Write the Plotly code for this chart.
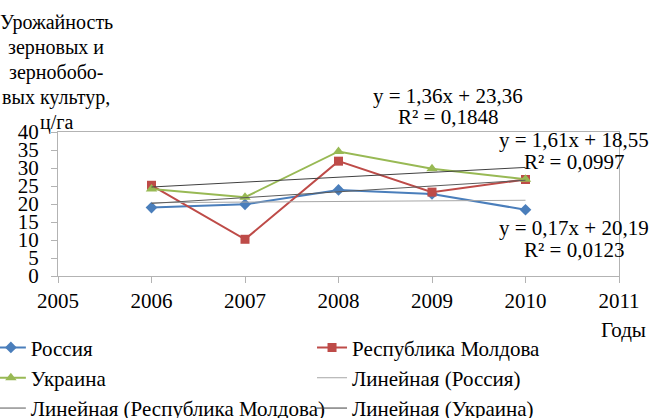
import plotly.graph_objects as go

years = [2006, 2007, 2008, 2009, 2010]
russia = [19.0, 19.9, 23.9, 22.8, 18.4]
moldova = [25.2, 10.2, 31.9, 23.3, 26.8]
ukraine = [24.2, 21.9, 34.6, 29.8, 26.9]

# trendline coefficients as printed on the chart (x = 1..5)
trend_slope = {"russia": 0.17, "moldova": 1.61, "ukraine": 1.36}
trend_icept = {"russia": 20.19, "moldova": 18.55, "ukraine": 23.36}
eq_texts = {
    "ukraine": ["y = 1,36x + 23,36", "R² = 0,1848"],
    "moldova": ["y = 1,61x + 18,55", "R² = 0,0997"],
    "russia": ["y = 0,17x + 20,19", "R² = 0,0123"],
}
x_ticks = [2005, 2006, 2007, 2008, 2009, 2010, 2011]
y_ticks = [0, 5, 10, 15, 20, 25, 30, 35, 40]
title_lines = ["Урожайность", "зерновых и", "зернобобо-", "вых культур,", "ц/га"]

FONT = "'Liberation Serif', 'Times New Roman', Times, serif"
W, H = 651, 418
L, R, T, B = 57.7, 619.3, 131.7, 275.7
PW, PH = R - L, B - T


def px(x):
    return (x - L) / PW


def py(y):
    return (B - y) / PH


idx = list(range(1, len(years) + 1))
fig = go.Figure()
# column 1 of the legend: Россия, Украина, Линейная (Республика Молдова)
# column 2 of the legend: Республика Молдова, Линейная (Россия), Линейная (Украина)
fig.add_trace(go.Scatter(x=years, y=russia, name="Россия", mode="lines+markers",
                         line=dict(color="#4a7ebb", width=2), legend="legend",
                         marker=dict(symbol="diamond", size=9, color="#4a7ebb")))
fig.add_trace(go.Scatter(x=years, y=moldova, name="Республика Молдова", mode="lines+markers",
                         line=dict(color="#be4b48", width=2), legend="legend2",
                         marker=dict(symbol="square", size=9, color="#be4b48")))
fig.add_trace(go.Scatter(x=years, y=ukraine, name="Украина", mode="lines+markers",
                         line=dict(color="#98b954", width=2), legend="legend",
                         marker=dict(symbol="triangle-up", size=10, color="#98b954")))

trend_colors = {"russia": "#a6a6a6", "moldova": "#5a5a5a", "ukraine": "#404040"}
trend_names = {"russia": "Линейная (Россия)", "moldova": "Линейная (Республика Молдова)",
               "ukraine": "Линейная (Украина)"}
trend_legend = {"russia": "legend2", "moldova": "legend", "ukraine": "legend2"}
for key in ["russia", "moldova", "ukraine"]:
    ty = [trend_slope[key] * i + trend_icept[key] for i in idx]
    fig.add_trace(go.Scatter(x=years, y=ty, name=trend_names[key], mode="lines",
                             legend=trend_legend[key],
                             line=dict(color=trend_colors[key], width=1)))

ann = []
for i, t in enumerate(title_lines):
    ann.append(dict(text=t, x=px(56), y=py(22 + 25 * i), xref="paper", yref="paper",
                    xanchor="center", yanchor="middle", showarrow=False,
                    font=dict(family=FONT, size=20, color="#000")))
eq_pos = {"ukraine": (448, 96, 117), "moldova": (574, 140, 162), "russia": (574, 228, 250)}
for key, (cx, y1, y2) in eq_pos.items():
    for t, yy in zip(eq_texts[key], (y1, y2)):
        ann.append(dict(text=t, x=px(cx), y=py(yy), xref="paper", yref="paper",
                        xanchor="center", yanchor="middle", showarrow=False,
                        font=dict(family=FONT, size=21, color="#000")))
ann.append(dict(text="Годы", x=px(648), y=py(330), xref="paper", yref="paper",
                xanchor="right", yanchor="middle", showarrow=False,
                font=dict(family=FONT, size=21, color="#000")))

axis_common = dict(showline=True, linecolor="#b3b3b3", linewidth=1, mirror=True,
                   ticks="outside", ticklen=6, tickcolor="#b3b3b3", showgrid=False,
                   zeroline=False, tickfont=dict(family=FONT, size=21, color="#000"))
legend_common = dict(orientation="v", yanchor="top", xanchor="left",
                     xref="paper", yref="paper",
                     font=dict(family=FONT, size=21, color="#000"), itemwidth=30,
                     bgcolor="rgba(0,0,0,0)", traceorder="normal")
fig.update_layout(
    width=W, height=H,
    margin=dict(l=L, r=W - R, t=T, b=H - B, autoexpand=False),
    paper_bgcolor="white", plot_bgcolor="white",
    font=dict(family=FONT, size=21, color="#000"),
    xaxis=dict(range=[2005, 2011], tickvals=x_ticks, ticktext=[str(v) for v in x_ticks],
               ticklabelstandoff=0, **axis_common),
    yaxis=dict(range=[0, 40], tickvals=y_ticks, ticktext=[str(v) for v in y_ticks],
               ticklabelstandoff=8, **axis_common),
    annotations=ann,
    showlegend=True,
    legend=dict(x=px(-9.5), y=py(327), **legend_common),
    legend2=dict(x=px(312), y=py(327), **legend_common),
)
fig.write_html("out.html", post_script="document.body.style.margin='0';",
               config={"displayModeBar": False})
